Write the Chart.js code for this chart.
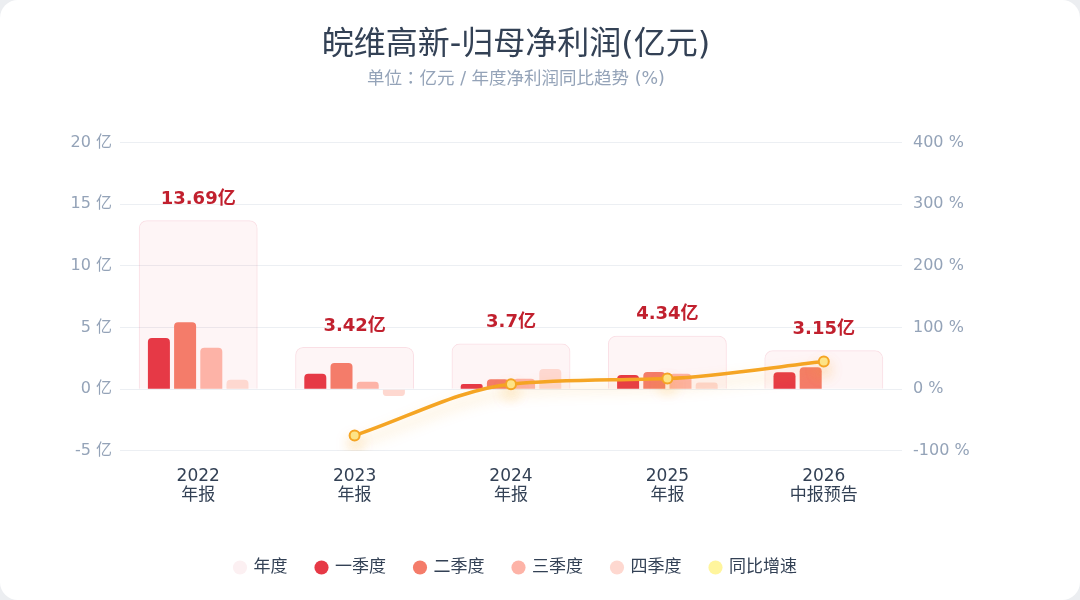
<!DOCTYPE html>
<html>
<head>
<meta charset="utf-8">
<script src="https://cdn.jsdelivr.net/npm/chart.js@4.4.1/dist/chart.umd.min.js"></script>
<style>
  html, body { margin: 0; padding: 0; background: #eceef1; }
  .card { width: 1080px; height: 600px; background: #fff; border-radius: 18px; overflow: hidden; position: relative; }
</style>
</head>
<body>
<div class="card"><canvas id="profitChart"></canvas></div>
<script>
// 数据
const periods = [['2022', '年报'], ['2023', '年报'], ['2024', '年报'], ['2025', '年报'], ['2026', '中报预告']];
const annual = [13.69, 3.42, 3.7, 4.34, 3.15];
const q1 = [4.15, 1.25, 0.42, 1.15, 1.37];
const q2 = [5.42, 2.12, 0.80, 1.40, 1.78];
const q3 = [3.35, 0.60, 0.85, 1.25, null];
const q4 = [0.77, -0.55, 1.63, 0.54, null];
const yoy = [null, -75.0, 8.2, 17.3, 45.0];
const leftTicks = [-5, 0, 5, 10, 15, 20];
const rightTicks = [-100, 0, 100, 200, 300, 400];

const FONT = '"DejaVu Sans", "Noto Sans CJK SC", sans-serif';
Chart.defaults.font.family = FONT;

const legendColors = ['#fcf0f2', '#e63946', '#f47c6a', '#fdb3a7', '#fed8d0', '#fff59d'];

// 年度数值标注
const annualLabels = {
    id: 'annualLabels',
    afterDatasetsDraw(chart) {
        const meta = chart.getDatasetMeta(0);
        const ctx = chart.ctx;
        ctx.save();
        ctx.font = 'bold 18px ' + FONT;
        ctx.fillStyle = '#c1202e';
        ctx.textAlign = 'center';
        ctx.textBaseline = 'middle';
        meta.data.forEach((bar, i) => {
            ctx.fillText(annual[i] + '亿', bar.x, bar.y - 21);
        });
        ctx.restore();
    }
};

// 折线光晕
const lineGlow = {
    id: 'lineGlow',
    beforeDatasetDraw(chart, args) {
        if (args.index !== 5) return;
        const ctx = chart.ctx;
        ctx.save();
        ctx.shadowColor = 'rgba(245, 165, 36, 0.35)';
        ctx.shadowBlur = 14;
        ctx.shadowOffsetY = 8;
    },
    afterDatasetDraw(chart, args) {
        if (args.index !== 5) return;
        chart.ctx.restore();
    }
};

const ctx = document.getElementById('profitChart').getContext('2d');
const profitChart = new Chart(ctx, {
    type: 'bar',
    data: {
        labels: periods,
        datasets: [{
            label: '年度',
            data: annual,
            grouped: false,
            categoryPercentage: 1,
            barPercentage: 0.76,
            backgroundColor: 'rgba(230, 80, 110, 0.06)',
            borderColor: 'rgba(230, 80, 110, 0.18)',
            borderWidth: 1,
            borderRadius: 8,
            order: 3
        }, {
            label: '一季度',
            data: q1,
            backgroundColor: '#e63946',
            categoryPercentage: 0.67,
            barPercentage: 0.84,
            borderRadius: 4,
            order: 2
        }, {
            label: '二季度',
            data: q2,
            backgroundColor: '#f47c6a',
            categoryPercentage: 0.67,
            barPercentage: 0.84,
            borderRadius: 4,
            order: 2
        }, {
            label: '三季度',
            data: q3,
            backgroundColor: '#fdb3a7',
            categoryPercentage: 0.67,
            barPercentage: 0.84,
            borderRadius: 4,
            order: 2
        }, {
            label: '四季度',
            data: q4,
            backgroundColor: '#fed8d0',
            categoryPercentage: 0.67,
            barPercentage: 0.84,
            borderRadius: 4,
            order: 2
        }, {
            type: 'line',
            label: '同比增速',
            data: yoy,
            yAxisID: 'y1',
            borderColor: '#f5a524',
            backgroundColor: '#fff59d',
            borderWidth: 3.5,
            pointRadius: 5,
            pointBackgroundColor: '#fde68a',
            pointBorderColor: '#f5a524',
            pointBorderWidth: 2,
            cubicInterpolationMode: 'monotone',
            fill: false,
            order: 1
        }]
    },
    options: {
        responsive: true,
        maintainAspectRatio: false,
        animation: false,
        layout: { padding: { left: 40, right: 88, top: 0, bottom: 14 } },
        plugins: {
            title: {
                display: true,
                text: '皖维高新-归母净利润(亿元)',
                color: '#334155',
                font: { size: 32, weight: 'normal' },
                padding: { top: 26, bottom: 5 }
            },
            subtitle: {
                display: true,
                text: '单位：亿元 / 年度净利润同比趋势 (%)',
                color: '#94a3b8',
                font: { size: 17.5, family: '"DejaVu Sans", "Noto Sans CJK JP", sans-serif' },
                padding: { top: 0, bottom: 52 }
            },
            legend: {
                position: 'bottom',
                labels: {
                    sort: (a, b) => a.datasetIndex - b.datasetIndex,
                    usePointStyle: true,
                    pointStyle: 'circle',
                    boxWidth: 10,
                    boxHeight: 10,
                    padding: 29,
                    color: '#334155',
                    font: { size: 17 },
                    generateLabels(chart) {
                        const items = Chart.defaults.plugins.legend.labels.generateLabels(chart);
                        items.forEach(item => {
                            item.fillStyle = legendColors[item.datasetIndex];
                            item.strokeStyle = legendColors[item.datasetIndex];
                            item.lineWidth = 0;
                            item.pointStyle = 'circle';
                        });
                        return items;
                    }
                }
            },
            tooltip: { enabled: false }
        },
        scales: {
            x: {
                grid: { display: false },
                border: { display: false },
                ticks: {
                    color: '#334155',
                    padding: 8,
                    font: { size: 17, lineHeight: 1.12 }
                },
                afterFit(scale) { scale.height += 17; }
            },
            y: {
                position: 'left',
                min: -5,
                max: 20,
                afterBuildTicks(scale) { scale.ticks = leftTicks.map(v => ({ value: v })); },
                grid: { color: '#eceff3', drawTicks: false },
                border: { display: false },
                ticks: {
                    color: '#94a3b8',
                    padding: 8,
                    font: { size: 16 },
                    callback: v => v + ' 亿'
                },
                afterFit(scale) { scale.width = 80; }
            },
            y1: {
                position: 'right',
                min: -100,
                max: 400,
                afterBuildTicks(scale) { scale.ticks = rightTicks.map(v => ({ value: v })); },
                grid: { display: false, drawTicks: false },
                border: { display: false },
                ticks: {
                    color: '#94a3b8',
                    padding: 11,
                    font: { size: 16 },
                    callback: v => v + ' %'
                },
                afterFit(scale) { scale.width = 90; }
            }
        }
    },
    plugins: [annualLabels, lineGlow]
});
</script>
</body>
</html>
